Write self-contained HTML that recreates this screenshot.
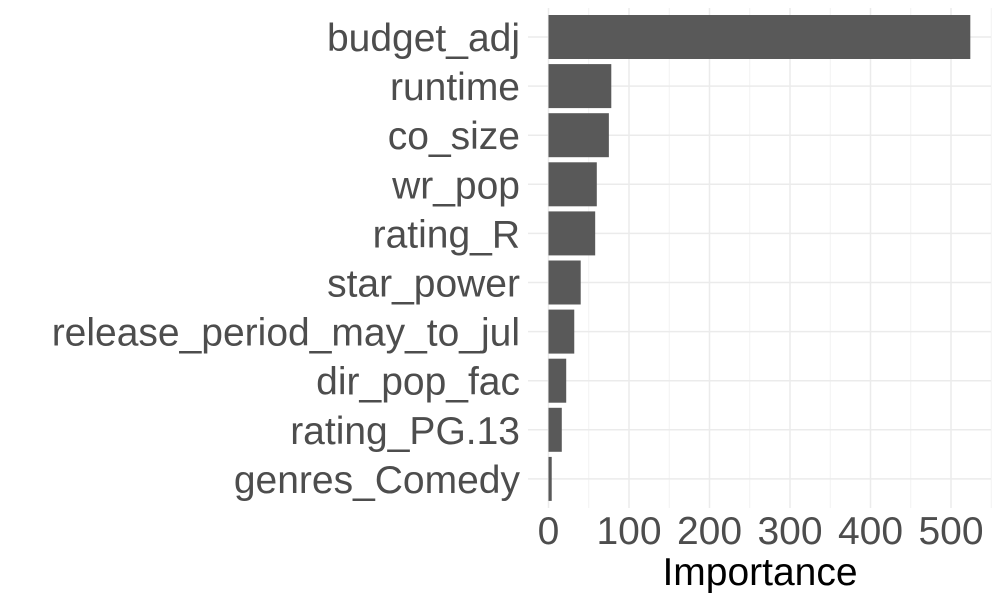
<!DOCTYPE html>
<html><head><meta charset="utf-8"><style>
body{margin:0;background:#fff;}
svg{display:block;font-family:"Liberation Sans",Arial,sans-serif;}
</style></head><body>
<svg id="chart" width="1000" height="600"></svg>
<script>
const categories=["budget_adj","runtime","co_size","wr_pop","rating_R","star_power","release_period_may_to_jul","dir_pop_fac","rating_PG.13","genres_Comedy"];
const importance=[524,78,75,60,58,40,32,22,16.5,4];
const xTicks=[0,100,200,300,400,500];
const xMinor=[50,150,250,350,450,550];
const NS="http://www.w3.org/2000/svg";
const svg=document.getElementById('chart');
const x0=548.5,kx=0.805,y0=37,step=49.1,bh=44,pL=528,pR=991,pT=8,pB=508;
const X=v=>x0+v*kx, Y=i=>y0+i*step;
function mk(t,a){const e=document.createElementNS(NS,t);for(const k in a)e.setAttribute(k,a[k]);svg.appendChild(e);return e;}
xMinor.forEach(v=>{const l=mk('line',{x1:X(v),x2:X(v),y1:pT,y2:pB,stroke:'#f2f2f2','stroke-width':1});

});
xTicks.forEach(v=>{const l=mk('line',{x1:X(v),x2:X(v),y1:pT,y2:pB,stroke:'#ebebeb','stroke-width':1.5});


const t=mk('text',{x:X(v),y:544,'text-anchor':'middle','font-size':39,fill:'#4d4d4d'});t.textContent=v;

});
categories.forEach((c,i)=>{const l=mk('line',{x1:pL,x2:pR,y1:Y(i),y2:Y(i),stroke:'#ebebeb','stroke-width':1.5});

});
categories.forEach((c,i)=>{const r=mk('rect',{x:X(0),y:Y(i)-bh/2,width:importance[i]*kx,height:bh,fill:'#595959'});


const t=mk('text',{x:520,y:Y(i)+14,'text-anchor':'end','font-size':39,fill:'#4d4d4d'});t.textContent=c;

});
const tt=mk('text',{x:760,y:585,'text-anchor':'middle','font-size':39,fill:'#000'});tt.textContent='Importance';


</script>
</body></html>
